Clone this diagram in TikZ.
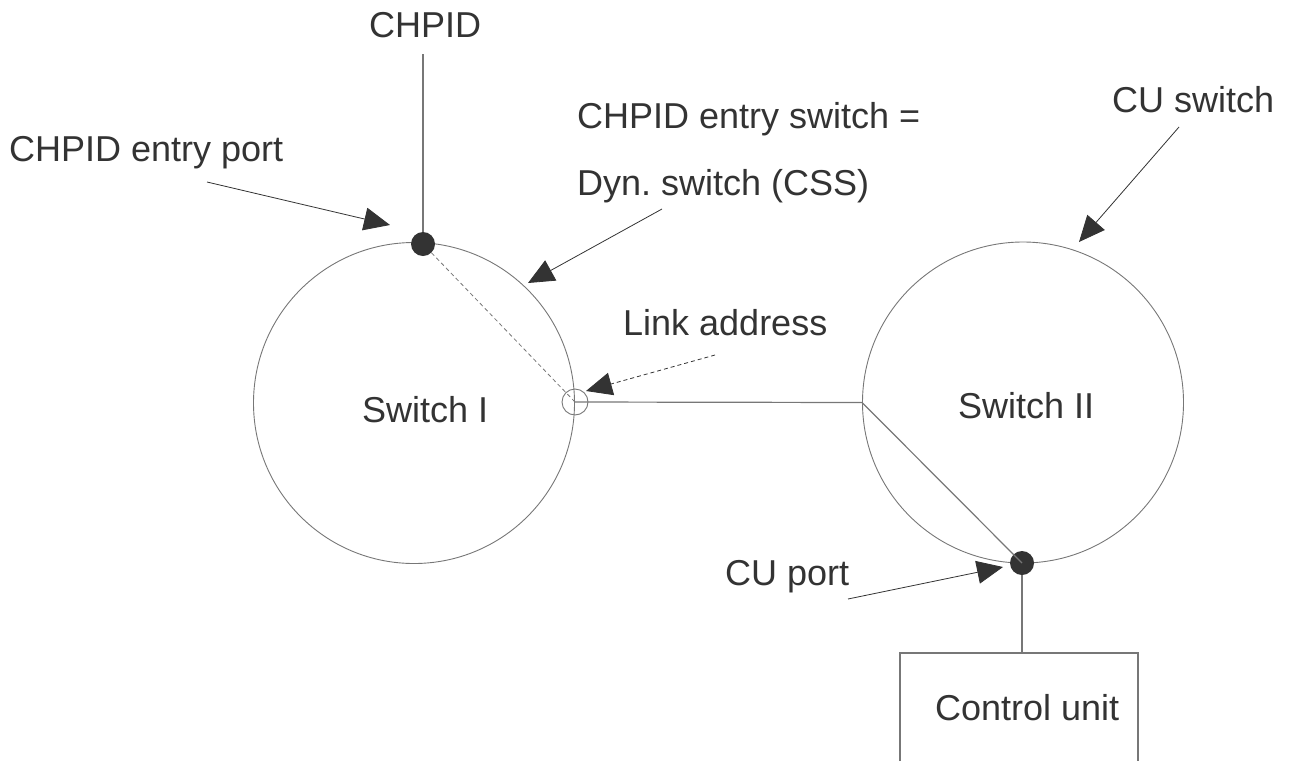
\documentclass[tikz,border=0pt]{standalone}
\usepackage{fontspec}
\setmainfont{Liberation Sans}
\usetikzlibrary{arrows.meta}
\definecolor{txt}{HTML}{333333}
\definecolor{ln}{HTML}{777777}
\definecolor{dk}{HTML}{333333}
\frenchspacing
\begin{document}
\begin{tikzpicture}[x=1pt,y=-1pt,
  lbl/.style={inner sep=0pt,anchor=base west,text=txt,font=\fontsize{36}{40}\selectfont},
  swc/.style={circle,draw=ln,line width=0.9pt,minimum size=321pt,inner sep=0pt},
  portdot/.style={circle,fill=dk,minimum size=24pt,inner sep=0pt},
  hollow/.style={circle,draw=ln,line width=0.9pt,minimum size=26pt,inner sep=0pt},
  wire/.style={draw=ln,line width=1.2pt},
  pointer/.style={draw=dk,line width=0.8pt,-{Triangle[length=26pt,width=23pt]}},
  dpointer/.style={draw=dk,line width=0.8pt,dash pattern=on 4pt off 3pt,-{Triangle[length=26pt,width=23pt]}},
  dline/.style={draw=ln,line width=0.8pt,dash pattern=on 4pt off 3pt}]
\useasboundingbox (0,0) rectangle (1291,761);
% switches
\node[swc] (s1) at (414,403) {};
\node[swc] (s2) at (1023,402.5) {};
\node[lbl] (t1) at (362,422) {Switch I};
\node[lbl] (t2) at (958,418) {Switch II};
% ports
\node[portdot] (p1) at (423,244) {};
\node[portdot] (p2) at (1022,563) {};
\node[hollow] (la) at (575,402) {};
% labels
\node[lbl] (chpid) at (369,37) {CHPID};
\node[lbl] (entry) at (9,161) {CHPID entry port};
\node[lbl] (css1) at (577,128) {CHPID entry switch =};
\node[lbl] (css2) at (577,195) {Dyn. switch (CSS)};
\node[lbl] (cusw) at (1112,112) {CU switch};
\node[lbl] (link) at (623,335) {Link address};
\node[lbl] (cup) at (725,585) {CU port};
\node[lbl] (cu) at (935,720) {Control unit};
% control unit box (open at bottom)
\coordinate (bl) at (900,761);
\coordinate (tl) at (900,653);
\coordinate (tr) at (1138,653);
\coordinate (br) at (1138,761);
\draw[ln,line width=1.2pt] (bl) -- (tl) -- (tr) -- (br);
\coordinate (cutop) at (1022,653);
% wires
\coordinate (chtop) at (423,54);
\draw[wire] (chtop) -- (p1);
\draw[dline] (p1) -- (la.center);
\draw[wire] (la.center) -- (s2.west) -- (p2.center);
\draw[wire] (p2) -- (cutop);
% pointers
\coordinate (a1) at (207,182); \coordinate (a1t) at (390,225);
\coordinate (a2) at (662,209); \coordinate (a2t) at (528,283);
\coordinate (a3) at (1179,127); \coordinate (a3t) at (1079,242);
\coordinate (a4) at (848,599); \coordinate (a4t) at (1003,567);
\coordinate (a5) at (715,355); \coordinate (a5t) at (586,391);
\draw[pointer] (a1) -- (a1t);
\draw[pointer] (a2) -- (a2t);
\draw[pointer] (a3) -- (a3t);
\draw[pointer] (a4) -- (a4t);
\draw[dpointer] (a5) -- (a5t);
\end{tikzpicture}
\end{document}
